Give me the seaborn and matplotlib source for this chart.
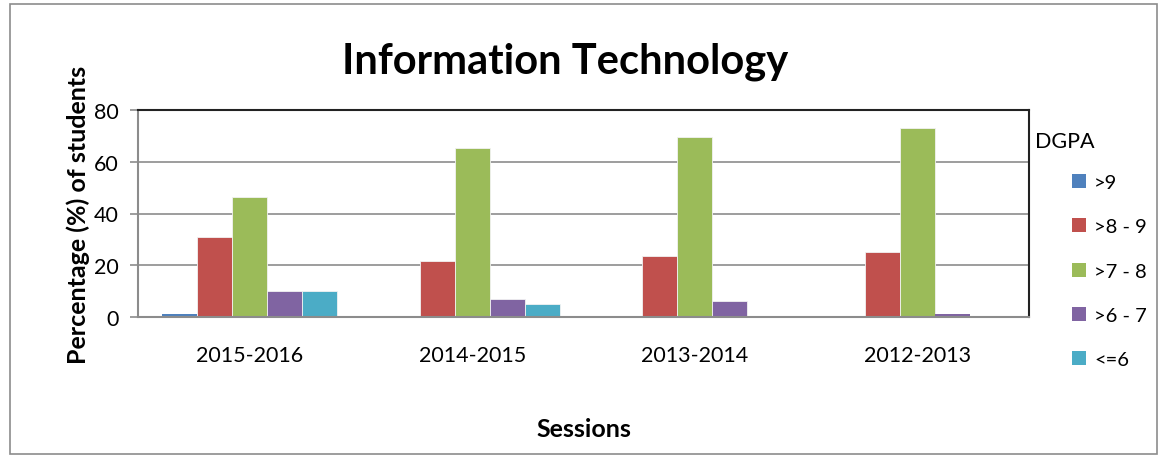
import numpy as np
import pandas as pd
import matplotlib
matplotlib.use("Agg")
import matplotlib.pyplot as plt
import seaborn as sns
from matplotlib.patches import Rectangle, Patch

# ---------- DATA ----------
sessions = ["2015-2016", "2014-2015", "2013-2014", "2012-2013"]
dgpa_bands = [">9", ">8 - 9", ">7 - 8", ">6 - 7", "<=6"]
above_9 = [1.3, 0, 0, 0]
from_8_to_9 = [31.0, 21.5, 23.5, 25.1]
from_7_to_8 = [46.3, 65.4, 69.4, 72.9]
from_6_to_7 = [10.0, 7.0, 6.3, 1.3]
upto_6 = [10.0, 5.2, 0, 0]
band_colors = ["#4F81BD", "#C0504D", "#9BBB59", "#8064A2", "#4BACC6"]
# --------------------------

series = [above_9, from_8_to_9, from_7_to_8, from_6_to_7, upto_6]
rows = []
for band, vals in zip(dgpa_bands, series):
    for s, v in zip(sessions, vals):
        rows.append({"Session": s, "DGPA": band, "Pct": v})
df = pd.DataFrame(rows)

sns.set_style("white")
plt.rcParams["font.family"] = ["Lato", "DejaVu Sans"]
plt.rcParams.update({"text.color": "black", "axes.labelcolor": "black",
                     "xtick.labelcolor": "black", "ytick.labelcolor": "black"})

fig = plt.figure(figsize=(11.65, 4.6), dpi=100)
ax = fig.add_axes([138 / 1165, 1 - 318 / 460, 891 / 1165, 207 / 460])

sns.barplot(data=df, x="Session", y="Pct", hue="DGPA", order=sessions,
            hue_order=dgpa_bands, palette=band_colors, width=0.786,
            edgecolor="none", saturation=1, ax=ax, legend=False)
# thin light separators between adjacent bars, like the original
for bar in ax.patches:
    if bar.get_height() > 3:
        bar.set_edgecolor("#f2f2f2")
        bar.set_linewidth(0.6)

ax.set_ylim(0, 80)
ax.set_yticks([0, 20, 40, 60, 80])
ax.yaxis.grid(True, color="#8c8c8c", lw=1.2)
ax.set_axisbelow(True)
ax.tick_params(axis="y", left=True, length=6, width=1.2, color="#8c8c8c",
               labelsize=15.5, pad=8, labelcolor="black")
ax.tick_params(axis="x", bottom=False, labelsize=15.5, pad=17, labelcolor="black")
for side in ["left", "bottom"]:
    ax.spines[side].set_color("#8c8c8c")
    ax.spines[side].set_linewidth(1.5)
for side in ["top", "right"]:
    ax.spines[side].set_color("#222222")
    ax.spines[side].set_linewidth(1.5)

ax.set_xlabel("Sessions", fontsize=18, fontweight="bold", labelpad=37)
ax.set_ylabel("Percentage (%) of students", fontsize=18, fontweight="bold", labelpad=3)
fig.text(565 / 1165, 1 - 62 / 460, "Information Technology", ha="center", va="center",
         fontsize=30, fontweight="bold")

# legend
fig.text(1035 / 1165, 1 - 142 / 460, "DGPA", ha="left", va="center", fontsize=15.5)
handles = [Patch(facecolor=c, edgecolor="none", label=b) for c, b in zip(band_colors, dgpa_bands)]
fig.legend(handles=handles, loc="upper left", bbox_to_anchor=(1062 / 1165, 1 - 165 / 460),
           frameon=False, fontsize=14.5, labelspacing=1.35, handlelength=0.7,
           handleheight=0.7, handletextpad=0.4, borderpad=0)

# outer chart border
fig.patches.append(Rectangle((10 / 1165, 5 / 460), 1147 / 1165, 450 / 460,
                             transform=fig.transFigure, fill=False,
                             edgecolor="#8c8c8c", lw=1.2))

fig.savefig("out.png", dpi=100)
